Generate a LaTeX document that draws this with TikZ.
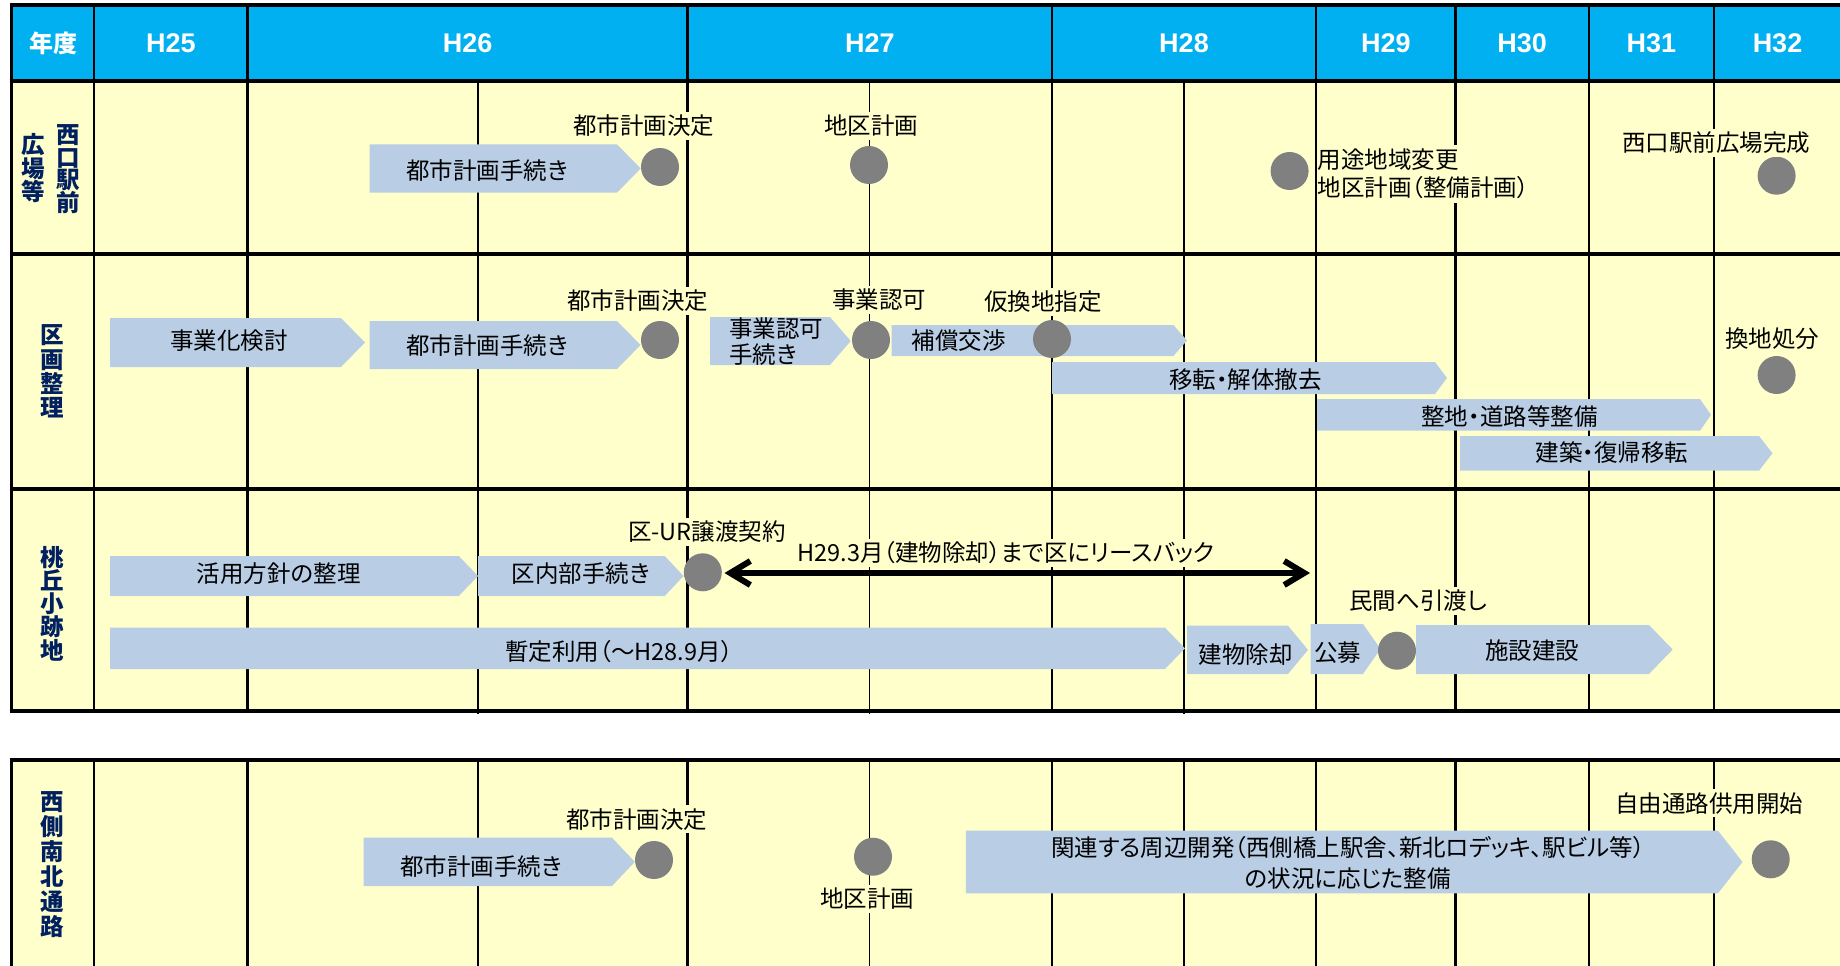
\documentclass[tikz,border=0pt]{standalone}
\usepackage{fontspec}
\setmainfont{Liberation Sans}
\newfontfamily\jp[RawFeature=+palt]{Noto Sans CJK JP}
\usetikzlibrary{arrows.meta}
\definecolor{hdr}{HTML}{00B0F0}
\definecolor{bg}{HTML}{FFFFCC}
\definecolor{bar}{HTML}{B9CDE5}
\definecolor{dot}{HTML}{808080}
\definecolor{navy}{HTML}{002060}
% chevron bar: left, corner, tip, top, bottom
\newcommand\chev[5]{\fill[bar] (#1,#4) -- (#2,#4) -- (#3,{(#4+#5)/2}) -- (#2,#5) -- (#1,#5) -- cycle;}
\begin{document}
\begin{tikzpicture}[x=1pt,y=-1pt,
  txt/.style={font=\jp\fontsize{23.5}{27}\selectfont, inner sep=0pt},
  lbl/.style={txt, fill=bg, inner xsep=1.5pt, inner ysep=3pt},
  dotn/.style={circle, fill=dot, minimum size=38pt, inner sep=0pt},
  vlab/.style={font=\jp\bfseries\fontsize{23.5}{#1}\selectfont, text=navy, align=center, inner sep=0pt},
  hd/.style={font=\bfseries\fontsize{27}{27}\selectfont, text=white, inner sep=0pt},
  hdj/.style={font=\jp\bfseries\fontsize{24}{24}\selectfont, text=white, inner sep=0pt},
  yl/.style={line width=2.4pt}, sl/.style={line width=1.8pt}, hl/.style={line width=3.4pt},
  dbl/.style={line width=6pt, {Straight Barb[length=20pt,width=24pt]}-{Straight Barb[length=20pt,width=24pt]}}]
\useasboundingbox (0,0) rectangle (1840,966);
% backgrounds
\fill[hdr] (11.7,5) rectangle (1842,81);
\fill[bg] (11.7,81) rectangle (1842,711);
\fill[bg] (11.7,760) rectangle (1842,970);
% grid
\foreach \x in {94,247.6,687.6,1052,1316,1455.6,1588.8,1713.8} {
  \draw[yl] (\x,5) -- (\x,711);
  \draw[yl] (\x,760) -- (\x,970);
}
\foreach \x in {478,869.5,1184} {
  \draw[sl] (\x,81) -- (\x,713.5);
  \draw[sl] (\x,760) -- (\x,970);
}
\foreach \y in {81,254,489} \draw[hl] (11.7,\y) -- (1842,\y);
\draw[hl] (1842,711) -- (11.7,711) -- (11.7,5) -- (1842,5);
\draw[hl] (11.7,970) -- (11.7,760) -- (1842,760);
% header
\node[hdj] (hy) at (53,43) {年度};
\node[hd] (h25) at (171,43) {H25};
\node[hd] (h26) at (467.6,43) {H26};
\node[hd] (h27) at (869.8,43) {H27};
\node[hd] (h28) at (1184,43) {H28};
\node[hd] (h29) at (1385.8,43) {H29};
\node[hd] (h30) at (1522.2,43) {H30};
\node[hd] (h31) at (1651.3,43) {H31};
\node[hd] (h32) at (1777.5,43) {H32};
% row labels
\node[vlab=22.7] (v1a) at (68,169) {西\\口\\駅\\前};
\node[vlab=23.5] (v1b) at (33,168.5) {広\\場\\等};
\node[vlab=24.3] (v2) at (52,371.5) {区\\画\\整\\理};
\node[vlab=23.3] (v3) at (52,603.5) {桃\\丘\\小\\跡\\地};
\node[vlab=25] (v4) at (52,864.5) {西\\側\\南\\北\\通\\路};
% bars
\chev{369.6}{617}{640.7}{144.3}{192.7}
\chev{110}{341}{365}{318}{367}
\chev{369.6}{617}{640.6}{321}{369}
\chev{710}{830}{850.7}{317}{365}
\chev{891.7}{1173.4}{1187}{325}{356}
\chev{1052}{1435}{1447}{362}{394}
\chev{1317}{1700}{1711}{399}{430.7}
\chev{1460}{1759}{1772.5}{436}{470.7}
\chev{110}{458.8}{478}{556}{596}
\chev{478}{664.7}{683.5}{556}{596}
\chev{110}{1165}{1185}{627.7}{669}
\chev{1187}{1288}{1308}{625.7}{674}
\chev{1310.7}{1363}{1380.5}{624}{674}
\chev{1416}{1649}{1672.7}{625}{674}
\chev{363.7}{612}{634.8}{837.7}{886}
\chev{965.8}{1718}{1742.5}{830.7}{893.3}
% bar texts
\node[txt] (t1a) at (487,171) {都市計画手続き};
\node[txt] (t2a) at (229,341) {事業化検討};
\node[txt] (t2b) at (487,346) {都市計画手続き};
\node[txt, anchor=west, align=left, font=\jp\fontsize{23.5}{26}\selectfont] (t2c) at (729,342) {事業認可\\手続き};
\node[txt] (t2d) at (958.7,340.5) {補償交渉};
\node[txt] (t2e) at (1245.6,380) {移転・解体撤去};
\node[txt] (t2f) at (1509.6,416.7) {整地・道路等整備};
\node[txt] (t2g) at (1612,453) {建築・復帰移転};
\node[txt] (t3a) at (278.7,574) {活用方針の整理};
\node[txt] (t3b) at (580.8,574) {区内部手続き};
\node[txt] (t3c) at (619,651.7) {暫定利用（〜H28.9月）};
\node[txt] (t3d) at (1245.6,655) {建物除却};
\node[txt] (t3e) at (1337.7,652.7) {公募};
\node[txt] (t3f) at (1532,650.7) {施設建設};
\node[txt] (t4a) at (481,866.7) {都市計画手続き};
\node[txt, align=center, font=\jp\fontsize{23.5}{31.7}\selectfont] (t4b) at (1348,863) {関連する周辺開発（西側橋上駅舎、新北ロデッキ、駅ビル等）\\の状況に応じた整備};
% milestones
\node[dotn] (c1a) at (660,167) {};
\node[dotn] (c1b) at (869,165) {};
\node[dotn] (c1c) at (1289.6,171) {};
\node[dotn] (c1d) at (1776.6,175.7) {};
\node[dotn] (c2a) at (660,340) {};
\node[dotn] (c2b) at (871,340) {};
\node[dotn] (c2c) at (1052,339) {};
\node[dotn] (c2d) at (1776.6,375) {};
\node[dotn] (c3a) at (702.8,572.3) {};
\node[dotn] (c3b) at (1397,650.7) {};
\node[dotn] (c4a) at (654,860) {};
\node[dotn] (c4b) at (873,856.7) {};
\node[dotn] (c4c) at (1770.7,859.3) {};
% milestone labels
\node[lbl] (l1a) at (643.6,126) {都市計画決定};
\node[lbl] (l1b) at (871,126) {地区計画};
\node[lbl, anchor=west, align=left, inner xsep=0pt, inner ysep=4pt, font=\jp\fontsize{23.5}{27.7}\selectfont] (l1c) at (1317.5,174) {用途地域変更\\地区計画（整備計画）};
\node[lbl] (l1d) at (1716,143) {西口駅前広場完成};
\node[lbl] (l2a) at (637.7,300.7) {都市計画決定};
\node[lbl] (l2b) at (879,300) {事業認可};
\node[lbl] (l2c) at (1043,301.7) {仮換地指定};
\node[lbl] (l2d) at (1772,339) {換地処分};
\node[lbl] (l3a) at (707,531.7) {区-UR譲渡契約};
\node[lbl] (l3b) at (1006,552.7) {H29.3月（建物除却）まで区にリースバック};
\node[lbl] (l3c) at (1418,600.7) {民間へ引渡し};
\node[lbl] (l4a) at (636.5,819.3) {都市計画決定};
\node[lbl] (l4b) at (867,899) {地区計画};
\node[lbl] (l4c) at (1709,803.3) {自由通路供用開始};
% lease-back arrow
\coordinate (arrL) at (724.5,573);
\coordinate (arrR) at (1310,573);
\draw[dbl] (arrL) -- (arrR);
\end{tikzpicture}
\end{document}
